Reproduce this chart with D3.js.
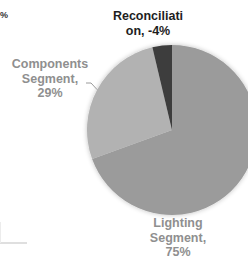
<html>
<head>
  <script src="https://cdn.jsdelivr.net/npm/d3@7/dist/d3.min.js"></script>
</head>
<style>
  body { margin: 0; background: #fff; }
  svg { display: block; }
  text { font-family: "Liberation Sans", Arial, sans-serif; font-weight: bold; }
</style>
<body>
  <svg id="chart"></svg>
  <script type="text/javascript">
    // data
    var segments = ['Lighting Segment', 'Components Segment', 'Reconciliation'];
    var shares = [75, 29, -4];
    var fills = ['#9b9b9b', '#b2b2b2', '#3d3d3d'];
    // label lines as they wrap in the original
    var labelLines = [
      ['Lighting', 'Segment,', '75%'],
      ['Components', 'Segment,', '29%'],
      ['Reconciliati', 'on, -4%']
    ];
    var labelColors = ['#8f8f8f', '#8f8f8f', '#1e1e1e'];

    var width = 248, height = 269;
    var cx = 172, cy = 130, radius = 85;

    var svg = d3.select('#chart')
      .attr('width', width)
      .attr('height', height);

    var defs = svg.append('defs');
    var shadow = defs.append('filter')
      .attr('id', 'shadow')
      .attr('x', '-20%').attr('y', '-20%')
      .attr('width', '140%').attr('height', '140%');
    shadow.append('feGaussianBlur')
      .attr('in', 'SourceAlpha')
      .attr('stdDeviation', 2.5);
    shadow.append('feComponentTransfer')
      .append('feFuncA').attr('type', 'linear').attr('slope', 0.25);
    var merge = shadow.append('feMerge');
    merge.append('feMergeNode');
    merge.append('feMergeNode').attr('in', 'SourceGraphic');

    // bits of the neighbouring chart that show at the left edge
    svg.append('text')
      .attr('x', 0)
      .attr('y', 18)
      .attr('text-anchor', 'start')
      .attr('font-size', 9)
      .attr('fill', '#333')
      .text('%');
    svg.append('line')
      .attr('x1', 0).attr('x2', 27)
      .attr('y1', 243).attr('y2', 243)
      .attr('stroke', '#d4d4d4')
      .attr('stroke-width', 1.5);
    svg.append('line')
      .attr('x1', 0.5).attr('x2', 0.5)
      .attr('y1', 222).attr('y2', 243)
      .attr('stroke', '#ececec')
      .attr('stroke-width', 1);

    var pie = d3.pie()
      .sort(null)
      .value(function (d) { return Math.abs(d); });
    var arc = d3.arc()
      .innerRadius(0)
      .outerRadius(radius);
    var arcs = pie(shares);

    var g = svg.append('g')
      .attr('transform', 'translate(' + cx + ',' + cy + ')')
      .attr('filter', 'url(#shadow)');
    g.selectAll('path')
      .data(arcs)
      .enter()
      .append('path')
      .attr('d', arc)
      .attr('fill', function (d, i) { return fills[i]; });

    // label positions, relative to the pie centre
    var labelPos = [
      { x: 6, y: 97 },
      { x: -122, y: -62 },
      { x: -24, y: -110 }
    ];
    var lineGap = 14.6;

    labelLines.forEach(function (lines, i) {
      var t = svg.append('text')
        .attr('text-anchor', 'middle')
        .attr('font-size', 12.5)
        .attr('fill', labelColors[i]);
      lines.forEach(function (s, k) {
        t.append('tspan')
          .attr('x', cx + labelPos[i].x)
          .attr('y', cy + labelPos[i].y + k * lineGap)
          .text(s);
      });
    });

    // leader line from the Components label to the middle of its slice edge
    var comp = arcs[1];
    var mid = (comp.startAngle + comp.endAngle) / 2;
    var ex = cx + Math.sin(mid) * radius;
    var ey = cy - Math.cos(mid) * radius;
    svg.append('polyline')
      .attr('points', [[86, 83], [91, 83], [ex, ey]].map(function (p) { return p.join(','); }).join(' '))
      .attr('fill', 'none')
      .attr('stroke', '#9a9a9a')
      .attr('stroke-width', 1);
  </script>
</body>
</html>
